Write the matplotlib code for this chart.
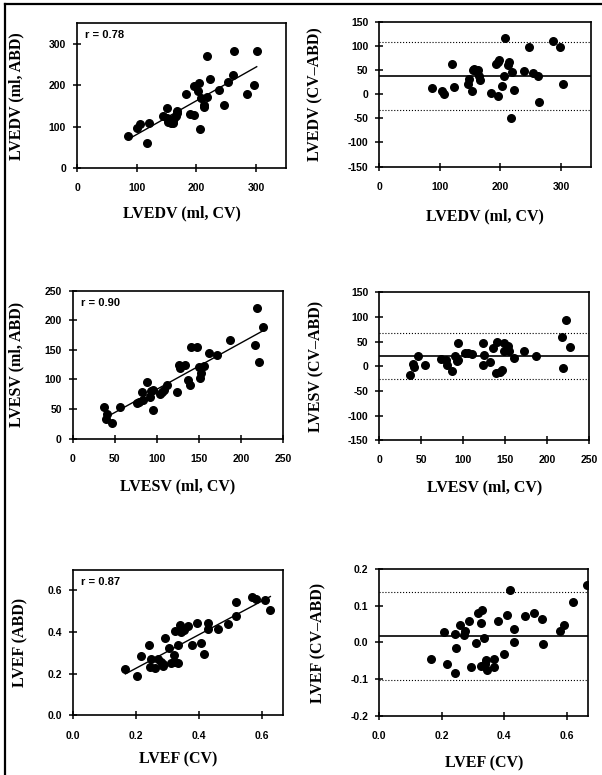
import numpy as np
import matplotlib
matplotlib.use('Agg')
import matplotlib.pyplot as plt
from matplotlib.lines import Line2D

# LVEDV: CV vs ABD
edv_cv = [86, 100, 106, 120, 118, 144, 151, 150, 153, 155, 157, 160, 161, 163, 165, 167, 168,
          183, 190, 196, 196, 204, 202, 206, 207, 212, 213, 218, 217, 223, 237, 246, 253, 261,
          263, 284, 297, 301]
edv_abd = [78, 97, 107, 109, 60, 125, 145, 121, 112, 117, 109, 108, 113, 120, 127, 133, 138,
           179, 130, 129, 199, 205, 187, 94, 169, 152, 147, 173, 270, 216, 189, 152, 209, 224,
           284, 178, 201, 284]
# LVEDV difference plot
edv_cv2 = [87, 103, 107, 120, 123, 147, 149, 153, 155, 157, 160, 163, 165, 166, 184, 192, 196,
           198, 196, 203, 206, 207, 212, 215, 218, 219, 223, 239, 248, 254, 262, 264, 287, 299, 303]
edv_diff = [12, 6, 0, 62, 15, 21, 32, 7, 50, 52, 47, 50, 38, 29, 3, 63, 67, 70, -3, 17, 38, 117,
            60, 66, -50, 46, 8, 48, 97, 43, 38, -17, 110, 98, 21]
edv_lims = [37, 107, -32]  # mean, upper, lower

# LVESV
esv_cv = [37, 41, 40, 47, 56, 76, 79, 82, 83, 88, 92, 93, 95, 95, 104, 106, 109, 112, 124, 126,
          128, 133, 137, 140, 141, 148, 150, 151, 153, 156, 162, 172, 187, 217, 219, 222, 226]
esv_abd = [53, 41, 34, 26, 53, 61, 62, 78, 66, 96, 71, 81, 83, 48, 76, 79, 82, 90, 78, 124, 120,
           125, 99, 91, 155, 155, 121, 102, 111, 122, 145, 142, 167, 158, 221, 129, 188]
esv_cv2 = [36, 40, 41, 46, 55, 74, 79, 81, 86, 90, 92, 94, 94, 102, 106, 110, 123, 124, 125,
           132, 135, 140, 139, 144, 146, 149, 148, 153, 154, 160, 172, 187, 218, 219, 222, 227]
esv_diff = [-18, 5, -2, 20, 3, 15, 12, 3, -9, 20, 10, 46, 12, 27, 27, 24, 46, 2, 22, 9, 36, 49,
            -14, -12, -8, 47, 30, 41, 30, 17, 30, 20, 60, -3, 93, 39]
esv_lims = [21, 67, -26]

# LVEF
ef_cv = [0.167, 0.205, 0.216, 0.242, 0.244, 0.25, 0.26, 0.271, 0.28, 0.286, 0.287, 0.293, 0.307,
         0.313, 0.323, 0.325, 0.326, 0.333, 0.335, 0.34, 0.345, 0.355, 0.365, 0.378, 0.396,
         0.406, 0.418, 0.429, 0.429, 0.463, 0.492, 0.52, 0.52, 0.571, 0.582, 0.611, 0.628]
ef_abd = [0.221, 0.187, 0.287, 0.337, 0.233, 0.273, 0.225, 0.273, 0.254, 0.246, 0.235, 0.371,
          0.325, 0.249, 0.289, 0.257, 0.405, 0.337, 0.25, 0.432, 0.40, 0.41, 0.429, 0.337, 0.444,
          0.349, 0.297, 0.444, 0.413, 0.413, 0.437, 0.479, 0.546, 0.568, 0.56, 0.552, 0.508]
ef_cv2 = [0.165, 0.206, 0.216, 0.241, 0.241, 0.244, 0.259, 0.27, 0.275, 0.286, 0.294, 0.308,
          0.315, 0.324, 0.328, 0.324, 0.334, 0.337, 0.341, 0.344, 0.366, 0.368, 0.38, 0.398,
          0.409, 0.419, 0.43, 0.43, 0.466, 0.496, 0.522, 0.525, 0.578, 0.59, 0.618, 0.664]
ef_diff = [-0.046, 0.029, -0.059, 0.023, -0.084, -0.014, 0.047, 0.02, 0.03, 0.059, -0.066,
           -0.002, 0.08, 0.054, 0.089, -0.065, 0.012, -0.059, -0.048, -0.074, -0.066, -0.046,
           0.059, -0.03, 0.075, 0.143, 0.037, 0.002, 0.071, 0.08, 0.064, -0.003, 0.03, 0.048,
           0.111, 0.155]
ef_lims = [0.018, 0.138, -0.102]

r_labels = ['r = 0.78', 'r = 0.90', 'r = 0.87']

plt.rcParams['font.family'] = ['Liberation Sans', 'DejaVu Sans']
tick_font = dict(family='Liberation Sans', weight='bold', size=7.5)
label_font = dict(family='Liberation Serif', weight='bold', size=11.5)

fig = plt.figure(figsize=(6.02, 7.75), dpi=100)

# page frame (left and top edges)
fig.add_artist(Line2D([5 / 602, 5 / 602], [0, 1 - 4 / 775], color='black', lw=1.6))
fig.add_artist(Line2D([5 / 602, 1], [1 - 4 / 775, 1 - 4 / 775], color='black', lw=1.6))

rects = [[0.128, 0.783, 0.347, 0.187], [0.630, 0.785, 0.352, 0.187],
         [0.121, 0.434, 0.349, 0.191], [0.630, 0.432, 0.349, 0.191],
         [0.121, 0.077, 0.349, 0.188], [0.630, 0.076, 0.347, 0.190]]


def style(ax, xlim, ylim, xticks, yticks, fmt, xlabel, ylabel, xl_y, yl_x):
    ax.set_xlim(xlim)
    ax.set_ylim(ylim)
    ax.set_xticks(xticks)
    ax.set_yticks(yticks)
    ax.set_xticklabels([fmt.format(v) for v in xticks], fontdict=tick_font)
    ax.set_yticklabels([fmt.format(v) for v in yticks], fontdict=tick_font)
    ax.tick_params(direction='inout', length=6, width=1.1, pad=5)
    ax.tick_params(axis='x', pad=8)
    for sp in ax.spines.values():
        sp.set_linewidth(1.2)
    ax.set_xlabel(xlabel, fontdict=label_font, va='center')
    ax.set_ylabel(ylabel, fontdict=label_font, va='center')
    ax.xaxis.set_label_coords(0.5, xl_y)
    ax.yaxis.set_label_coords(yl_x, 0.5)


def scatter_fit(ax, x, y, r):
    ax.scatter(x, y, s=30, color='black', zorder=3)
    b, a = np.polyfit(x, y, 1)
    xs = np.array([min(x), max(x)])
    ax.plot(xs, a + b * xs, color='black', lw=1.0)
    ax.text(0.04, 0.95, r, transform=ax.transAxes, ha='left', va='top',
            family='Liberation Sans', weight='bold', size=8)


def diff_plot(ax, x, d, lims):
    ax.scatter(x, d, s=30, color='black', zorder=3)
    ax.axhline(lims[0], color='black', lw=1.2)
    ax.axhline(lims[1], color='black', lw=0.8, ls=':')
    ax.axhline(lims[2], color='black', lw=0.8, ls=':')


axs = [fig.add_axes(r) for r in rects]

scatter_fit(axs[0], edv_cv, edv_abd, r_labels[0])
style(axs[0], (0, 350), (0, 350), [0, 100, 200, 300], [0, 100, 200, 300], '{:g}',
      'LVEDV (ml, CV)', 'LVEDV (ml, ABD)', -0.31, -0.29)

diff_plot(axs[1], edv_cv2, edv_diff, edv_lims)
style(axs[1], (0, 350), (-150, 150), [0, 100, 200, 300], list(range(-150, 151, 50)), '{:g}',
      'LVEDV (ml, CV)', 'LVEDV (CV\u2013ABD)', -0.345, -0.30)

scatter_fit(axs[2], esv_cv, esv_abd, r_labels[1])
style(axs[2], (0, 250), (0, 250), list(range(0, 251, 50)), list(range(0, 251, 50)), '{:g}',
      'LVESV (ml, CV)', 'LVESV (ml, ABD)', -0.32, -0.27)

diff_plot(axs[3], esv_cv2, esv_diff, esv_lims)
style(axs[3], (0, 250), (-150, 150), list(range(0, 251, 50)), list(range(-150, 151, 50)), '{:g}',
      'LVESV (ml, CV)', 'LVESV (CV\u2013ABD)', -0.32, -0.30)

scatter_fit(axs[4], ef_cv, ef_abd, r_labels[2])
style(axs[4], (0, 0.668), (0, 0.7), [0.0, 0.2, 0.4, 0.6], [0.0, 0.2, 0.4, 0.6], '{:.1f}',
      'LVEF (CV)', 'LVEF (ABD)', -0.30, -0.25)

diff_plot(axs[5], ef_cv2, ef_diff, ef_lims)
style(axs[5], (0, 0.668), (-0.2, 0.2), [0.0, 0.2, 0.4, 0.6], [-0.2, -0.1, 0.0, 0.1, 0.2], '{:.1f}',
      'LVEF (CV)', 'LVEF (CV\u2013ABD)', -0.32, -0.29)

fig.savefig('out.png', dpi=100)
